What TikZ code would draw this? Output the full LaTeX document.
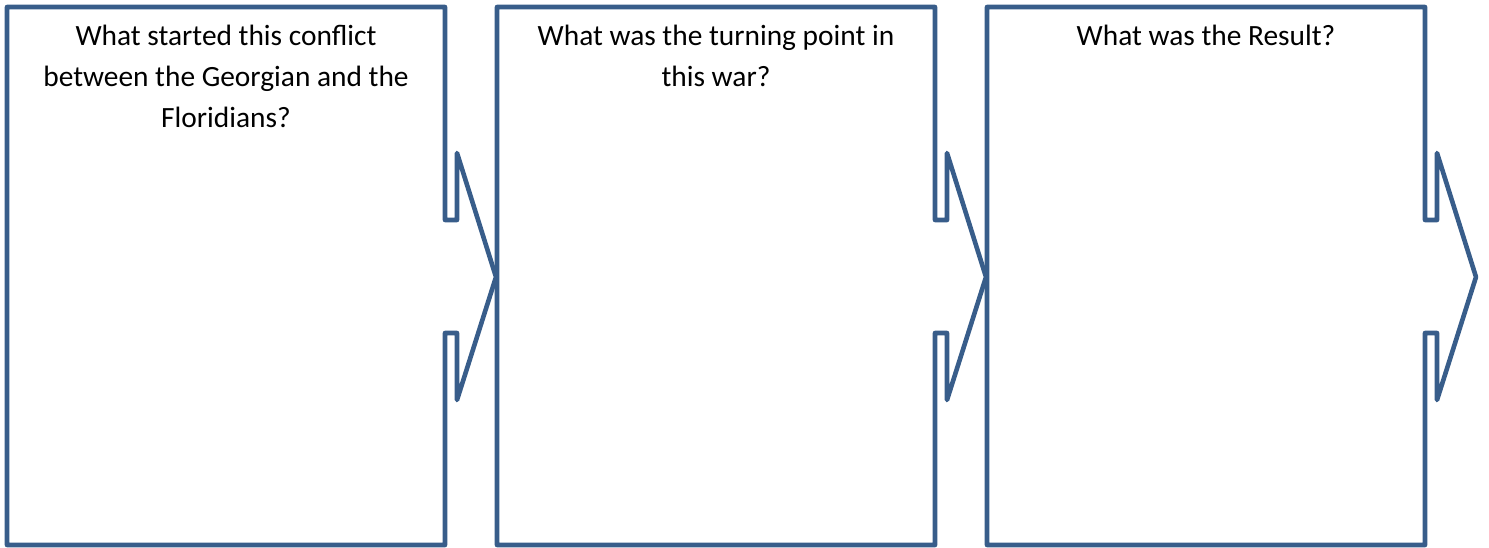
\documentclass[tikz,border=0pt]{standalone}
\usepackage{fontspec}
\setmainfont{Carlito}
\usetikzlibrary{positioning}
\definecolor{frameblue}{HTML}{385D8A}

\begin{document}
\begin{tikzpicture}[x=1pt,y=-1pt,
    frame/.style={draw=frameblue, line width=4.6pt, line join=round},
    question/.style={font=\fontsize{29.4}{41}\selectfont, align=center, inner sep=0pt, anchor=north}]
  \useasboundingbox (0,0) rectangle (1489,547);
  % three boxes, each with an arrow notch on the right
  \foreach \x in {7,497,987} {
    \draw[frame] (\x,7) -- ({\x+438},7) -- ({\x+438},220) -- ({\x+450},220)
      -- ({\x+450},153) -- ({\x+489},277) -- ({\x+450},400) -- ({\x+450},333)
      -- ({\x+438},333) -- ({\x+438},545) -- (\x,545) -- cycle;
  }
  \node[question] (q1) at (226,25) {What started this conflict\\between the Georgian and the\\Floridians?};
  \node[question] (q2) at (716,25) {What was the turning point in\\this war?};
  \node[question] (q3) at (1206,25) {What was the Result?};
\end{tikzpicture}
\end{document}
